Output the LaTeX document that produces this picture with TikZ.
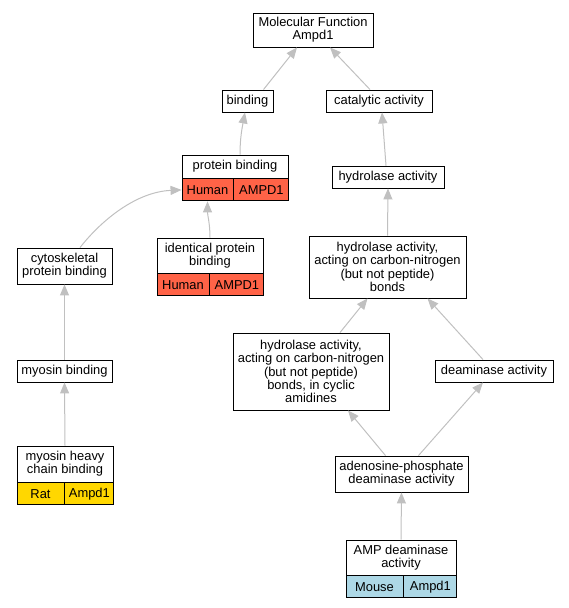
\documentclass[tikz,border=0pt]{standalone}
\usepackage{fontspec}
\setmainfont{Liberation Sans}
\usetikzlibrary{positioning,arrows.meta}

\definecolor{human}{RGB}{255,99,71}
\definecolor{rat}{RGB}{255,215,0}
\definecolor{mouse}{RGB}{173,216,230}
\definecolor{edgegray}{RGB}{192,192,192}

\begin{document}
\begin{tikzpicture}[x=1pt,y=-1pt,inner sep=0pt,
  every node/.style={font=\fontsize{12.9}{13.3}\selectfont, align=center},
  term/.style={draw=black, line width=0.9pt, fill=white},
  cell/.style={draw=black, line width=0.9pt, minimum height=22},
  isa/.style={draw=edgegray, line width=1pt, -{Triangle[length=11pt,width=9pt]}}]

\useasboundingbox (0,0) rectangle (568,608);

\node[term, minimum width=120, minimum height=34](mf) at (313,30) {Molecular Function\\Ampd1};
\node[term, minimum width=51, minimum height=22](bind) at (247.5,101) {binding};
\node[term, minimum width=106, minimum height=22](cat) at (379,101) {catalytic activity};

\node[term, minimum width=106, minimum height=23](pb) at (235,166.5) {protein binding};
\node[cell, fill=human, minimum width=51, below right=0pt and 0pt of pb.south west](pbh) {Human};
\node[cell, fill=human, minimum width=55, right=0pt of pbh](pbg) {AMPD1};

\node[term, minimum width=112, minimum height=22](hyd) at (388,177) {hydrolase activity};

\node[term, minimum width=95, minimum height=36](cyto) at (64.5,266) {cytoskeletal\\protein binding};

\node[term, minimum width=106, minimum height=35](ipb) at (210,255.5) {identical protein\\binding};
\node[cell, fill=human, minimum width=52, below right=0pt and 0pt of ipb.south west](ipbh) {Human};
\node[cell, fill=human, minimum width=54, right=0pt of ipbh](ipbg) {AMPD1};

\node[term, minimum width=157, minimum height=62](hcn) at (387.5,267) {hydrolase activity,\\acting on carbon-nitrogen\\(but not peptide)\\bonds};

\node[term, minimum width=95, minimum height=22](myo) at (64.5,371) {myosin binding};
\node[term, minimum width=156, minimum height=77](cyc) at (311,371.5) {hydrolase activity,\\acting on carbon-nitrogen\\(but not peptide)\\bonds, in cyclic\\amidines};
\node[term, minimum width=118, minimum height=22](deam) at (494,371) {deaminase activity};

\node[term, minimum width=96, minimum height=36](mhc) at (65,464) {myosin heavy\\chain binding};
\node[cell, fill=rat, minimum width=47, below right=0pt and 0pt of mhc.south west](mhcr) {Rat};
\node[cell, fill=rat, minimum width=49, right=0pt of mhcr](mhcg) {Ampd1};

\node[term, minimum width=133, minimum height=36](apd) at (401.5,474) {adenosine-phosphate\\deaminase activity};

\node[term, minimum width=110, minimum height=35](amp) at (401,557.5) {AMP deaminase\\activity};
\node[cell, fill=mouse, minimum width=57, below right=0pt and 0pt of amp.south west](ampm) {Mouse};
\node[cell, fill=mouse, minimum width=53, right=0pt of ampm](ampg) {Ampd1};

\draw[isa] ([xshift=16]bind.north) -- ([xshift=-16]mf.south);
\draw[isa] ([xshift=-9]cat.north) -- ([xshift=17]mf.south);
\draw[isa] ([xshift=5]pb.north) .. controls +(0,-16) and +(-3,16) .. ([xshift=-2.5]bind.south);
\draw[isa] ([xshift=-2]hyd.north) -- ([xshift=3]cat.south);
\draw[isa] ([xshift=15.5]cyto.north) .. controls +(22,-28) and +(-45,2) .. (pbh.west);
\draw[isa] (ipb.north) .. controls +(0,-14) and +(0,14) .. (pbh.south);
\draw[isa] (hcn.north) -- (hyd.south);
\draw[isa] (myo.north) -- (cyto.south);
\draw[isa] ([xshift=29]cyc.north) -- ([xshift=-20]hcn.south);
\draw[isa] ([xshift=-11]deam.north) -- ([xshift=40]hcn.south);
\draw[isa] (mhc.north) -- (myo.south);
\draw[isa] ([xshift=-16]apd.north) -- ([xshift=37]cyc.south);
\draw[isa] ([xshift=17]apd.north) -- ([xshift=-11]deam.south);
\draw[isa] (amp.north) -- (apd.south);

\end{tikzpicture}
\end{document}
